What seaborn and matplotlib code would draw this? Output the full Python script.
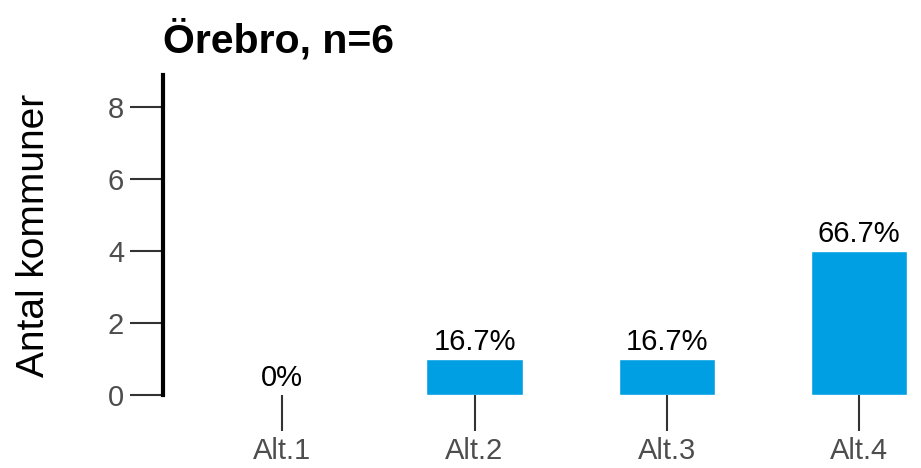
import matplotlib
matplotlib.use("Agg")
import matplotlib.pyplot as plt
import seaborn as sns
import pandas as pd

# data
categories = ["Alt.1", "Alt.2", "Alt.3", "Alt.4"]
counts = [0, 1, 1, 4]
pct_labels = ["0%", "16.7%", "16.7%", "66.7%"]
title = "Örebro, n=6"

sns.set_style("white")
plt.rcParams['font.family'] = ['Liberation Sans', 'DejaVu Sans']

df = pd.DataFrame({"alt": categories, "antal": counts})

fig = plt.figure(figsize=(9.21, 4.68), dpi=100)
ax = fig.add_axes([0.177, 0.156, 0.808, 0.684])

sns.barplot(data=df, x="alt", y="antal", color="#009FE3", width=0.5,
            saturation=1, ax=ax)

for i, (c, lab) in enumerate(zip(counts, pct_labels)):
    ax.annotate(lab, (i, c), xytext=(0, 2), textcoords="offset points",
                ha="center", va="bottom", fontsize=21, color="black")

ax.set_ylim(0, 8.9)
ax.set_xlim(-0.62, 3.25)
ax.set_yticks([0, 2, 4, 6, 8])

for s in ["top", "right", "bottom"]:
    ax.spines[s].set_visible(False)
ax.spines["left"].set_linewidth(3)
ax.spines["left"].set_color("black")

ax.tick_params(axis="x", length=26, width=1.5, color="#333333", bottom=True,
               labelsize=21, labelcolor="#4D4D4D", pad=4)
ax.tick_params(axis="y", length=24, width=1.5, color="#333333", left=True,
               labelsize=21, labelcolor="#4D4D4D", pad=4)
ax.set_xlabel("")
ax.set_ylabel("Antal kommuner", fontsize=28, color="black", labelpad=40)
ax.set_title(title, loc="left", fontsize=29.5, fontweight="bold", color="black", pad=16)

fig.savefig("out.png", dpi=100)
